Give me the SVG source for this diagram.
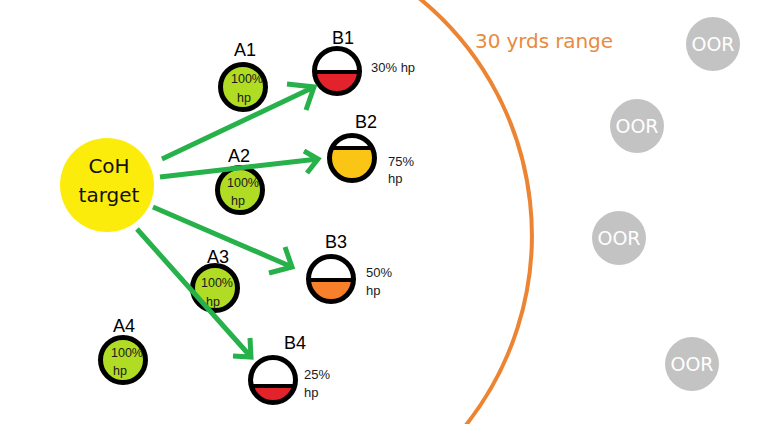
<svg xmlns="http://www.w3.org/2000/svg" width="761" height="424" viewBox="0 0 761 424">
<style>
.bg{fill:#ffffff}
.lbl{font-family:"Liberation Sans",Arial,sans-serif;font-size:18px;fill:#000;text-anchor:middle}
.small{font-family:"Liberation Sans",Arial,sans-serif;font-size:12.5px;fill:#1a1a1a;text-anchor:middle}
.bhp{font-family:"Liberation Sans",Arial,sans-serif;font-size:13px;fill:#1a1a1a}
.ally{fill:#b0dc24;stroke:#000;stroke-width:5}
.ring{fill:none;stroke:#000;stroke-width:5}
.bar{stroke:#000;stroke-width:4}
.oor{fill:#c3c3c3}
.oort{font-family:"DejaVu Sans",sans-serif;font-size:19px;fill:#fff;text-anchor:middle}
.arrow{fill:none;stroke:#27b14a;stroke-width:5;stroke-linecap:butt;stroke-linejoin:miter}
.range{fill:none;stroke:#ec8432;stroke-width:4}
</style>
<rect class="bg" x="0" y="0" width="761" height="424"/>

<g id="range">
<path class="range" d="M414,-6 A306,306 0 0 1 462,430"/>
<text x="475" y="48" style="font-family:'DejaVu Sans',sans-serif;font-size:20px;fill:#ea8a3e" textLength="138">30 yrds range</text>
</g>

<g id="oor1"><circle class="oor" cx="713" cy="44" r="27"/><text class="oort" x="713" y="51">OOR</text></g>
<g id="oor2"><circle class="oor" cx="637" cy="126" r="27"/><text class="oort" x="637" y="133">OOR</text></g>
<g id="oor3"><circle class="oor" cx="619" cy="238" r="27"/><text class="oort" x="619" y="245">OOR</text></g>
<g id="oor4"><circle class="oor" cx="692" cy="364" r="27"/><text class="oort" x="692" y="371">OOR</text></g>

<g id="coh">
<circle cx="107" cy="185" r="47" fill="#fcec0c"/>
<text x="109" y="173" style="font-family:'DejaVu Sans',sans-serif;font-size:20px;fill:#111;text-anchor:middle">CoH</text>
<text x="109" y="202" style="font-family:'DejaVu Sans',sans-serif;font-size:20px;fill:#111;text-anchor:middle">target</text>
</g>

<g id="A1">
<text class="lbl" x="245" y="56">A1</text>
<circle class="ally" cx="243" cy="87" r="22.5"/>
<text class="small" x="247" y="83">100%</text>
<text class="small" x="244" y="102">hp</text>
</g>
<g id="A2">
<text class="lbl" x="239" y="162">A2</text>
<circle class="ally" cx="240" cy="190" r="22.5"/>
<text class="small" x="243" y="187">100%</text>
<text class="small" x="238" y="205">hp</text>
</g>
<g id="A3">
<text class="lbl" x="218" y="263">A3</text>
<circle class="ally" cx="215" cy="288" r="22.5"/>
<text class="small" x="217" y="287">100%</text>
<text class="small" x="213" y="306">hp</text>
</g>
<g id="A4">
<text class="lbl" x="124" y="332">A4</text>
<circle class="ally" cx="123" cy="360" r="22.5"/>
<text class="small" x="127" y="357">100%</text>
<text class="small" x="120" y="375">hp</text>
</g>

<g id="B1">
<text class="lbl" x="343" y="44">B1</text>
<circle cx="337" cy="71" r="22.5" fill="#fff"/>
<path d="M314.52,72 A22.5,22.5 0 0 0 359.48,72 Z" fill="#e3232b"/>
<line class="bar" x1="314.5" y1="72" x2="359.5" y2="72"/>
<circle class="ring" cx="337" cy="71" r="22.5"/>
<text class="bhp" x="371" y="72">30% hp</text>
</g>
<g id="B2">
<text class="lbl" x="366" y="128">B2</text>
<circle cx="352" cy="158" r="22.5" fill="#fff"/>
<path d="M331.84,148 A22.5,22.5 0 1 0 372.16,148 Z" fill="#fbc515"/>
<line class="bar" x1="331.8" y1="148" x2="372.2" y2="148"/>
<circle class="ring" cx="352" cy="158" r="22.5"/>
<text class="bhp" x="388" y="166">75%</text>
<text class="bhp" x="388" y="183">hp</text>
</g>
<g id="B3">
<text class="lbl" x="336" y="248">B3</text>
<circle cx="331" cy="279" r="22.5" fill="#fff"/>
<path d="M308.52,280 A22.5,22.5 0 0 0 353.48,280 Z" fill="#f8802a"/>
<line class="bar" x1="308.5" y1="280" x2="353.5" y2="280"/>
<circle class="ring" cx="331" cy="279" r="22.5"/>
<text class="bhp" x="366" y="277">50%</text>
<text class="bhp" x="366" y="295">hp</text>
</g>
<g id="B4">
<text class="lbl" x="295" y="349">B4</text>
<circle cx="273" cy="380" r="22.5" fill="#fff"/>
<path d="M251.31,386 A22.5,22.5 0 0 0 294.69,386 Z" fill="#e3232b"/>
<line class="bar" x1="251.3" y1="386" x2="294.7" y2="386"/>
<circle class="ring" cx="273" cy="380" r="22.5"/>
<text class="bhp" x="304" y="379">25%</text>
<text class="bhp" x="304" y="397">hp</text>
</g>

<g id="connectors">
<path class="arrow" d="M162,159 L314,87 M287,84 L314,87 L306,110"/>
<path class="arrow" d="M160,177 L318,159 M304,151 L318,159 L307,173"/>
<path class="arrow" d="M153,207 L292,267 M285,247 L292,267 L269,273"/>
<path class="arrow" d="M137,229 L251,357 M250,338 L251,357 L233,356"/>
</g>
</svg>
